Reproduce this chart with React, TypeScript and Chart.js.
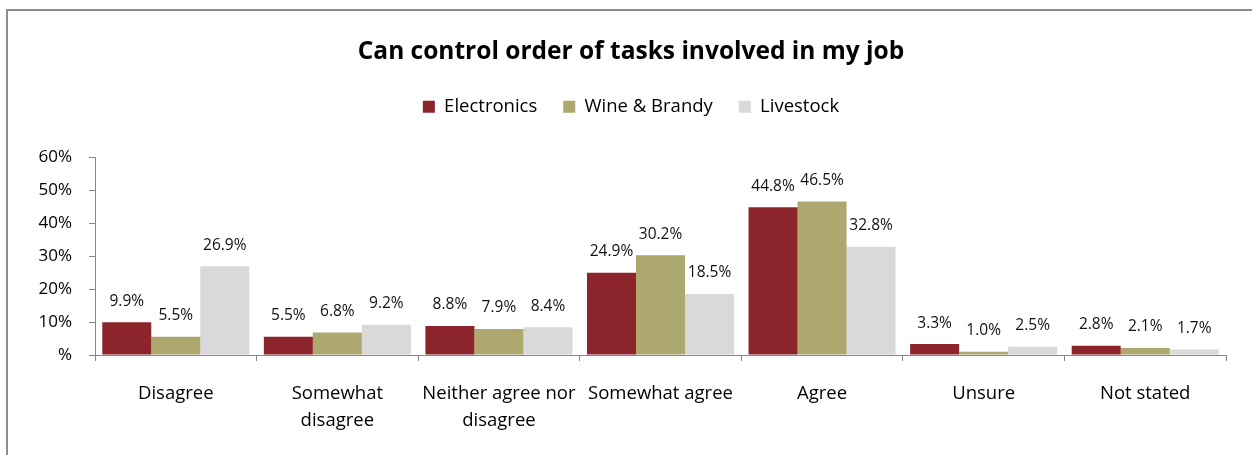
import React, { useEffect, useRef } from "react";
import { Chart, registerables } from "chart.js";

Chart.register(...registerables);

const categories: (string | string[])[] = [
  "Disagree",
  ["Somewhat", "disagree"],
  ["Neither agree nor", "disagree"],
  "Somewhat agree",
  "Agree",
  "Unsure",
  "Not stated",
];
const seriesNames = ["Electronics", "Wine & Brandy", "Livestock"];
const electronics = [9.9, 5.5, 8.8, 24.9, 44.8, 3.3, 2.8];
const wineBrandy = [5.5, 6.8, 7.9, 30.2, 46.5, 1.0, 2.1];
const livestock = [26.9, 9.2, 8.4, 18.5, 32.8, 2.5, 1.7];
const seriesColors = ["#8B252B", "#ADA96E", "#D9D9D9"];
const yTicks = [0, 10, 20, 30, 40, 50, 60];

const FONT = "'Open Sans', Lato, 'Liberation Sans', sans-serif";
const AXIS = "#868686";

const valueLabels = {
  id: "valueLabels",
  afterDatasetsDraw(chart: any) {
    const ctx = chart.ctx;
    ctx.save();
    ctx.font = `15.5px ${FONT}`;
    ctx.fillStyle = "#111";
    ctx.textAlign = "center";
    ctx.textBaseline = "middle";
    chart.data.datasets.forEach((ds: any, di: number) => {
      const meta = chart.getDatasetMeta(di);
      meta.data.forEach((el: any, i: number) => {
        const v = ds.data[i];
        ctx.fillText(`${v.toFixed(1)}%`, el.x, el.y - 21);
      });
    });
    ctx.restore();
  },
};

export default function App() {
  const ref = useRef<HTMLCanvasElement>(null);
  useEffect(() => {
    if (!ref.current) return;
    const chart = new Chart(ref.current, {
      type: "bar",
      data: {
        labels: categories,
        datasets: [electronics, wineBrandy, livestock].map((d, i) => ({
          label: seriesNames[i],
          data: d,
          backgroundColor: seriesColors[i],
          borderWidth: 0,
          categoryPercentage: 0.91,
          barPercentage: 1,
        })),
      },
      options: {
        animation: false,
        responsive: false,
        layout: { padding: { left: 36, right: 26, top: 0, bottom: 0 } },
        plugins: {
          title: {
            display: true,
            text: "Can control order of tasks involved in my job",
            color: "#000",
            font: { family: FONT, size: 24.5, weight: "bold", lineHeight: 1.2 },
            padding: { top: 37.3, bottom: 4.75 },
          },
          legend: {
            display: true,
            position: "top",
            labels: {
              boxWidth: 12,
              boxHeight: 12,
              padding: 26,
              color: "#000",
              font: { family: FONT, size: 18.5 },
            },
          },
          subtitle: {
            display: true,
            text: "",
            weight: 0,
            font: { size: 12, lineHeight: 1 },
            padding: { top: 0, bottom: 19.05 },
          },
          tooltip: { enabled: false },
        },
        scales: {
          x: {
            grid: {
              display: true,
              drawOnChartArea: false,
              offset: true,
              tickLength: 6,
              color: AXIS,
            },
            border: { color: AXIS },
            ticks: {
              color: "#000",
              padding: 19,
              font: { family: FONT, size: 18.5, lineHeight: 1.46 },
              maxRotation: 0,
              autoSkip: false,
            },
            afterFit(scale: any) {
              scale.height = 100;
            },
          },
          y: {
            min: 0,
            max: 60,
            afterBuildTicks(scale: any) {
              scale.ticks = yTicks.map((v) => ({ value: v }));
            },
            grid: {
              display: true,
              drawOnChartArea: false,
              tickLength: 6,
              color: AXIS,
            },
            border: { color: AXIS },
            ticks: {
              color: "#000",
              padding: 17,
              font: { family: FONT, size: 17 },
              callback: (v: any) => (v === 0 ? "%" : `${v}%`),
            },
            afterFit(scale: any) {
              scale.width = 59;
            },
          },
        },
      },
      plugins: [valueLabels],
    });
    return () => chart.destroy();
  }, []);

  return (
    <div
      style={{
        position: "fixed",
        left: 0,
        top: 0,
        width: 1252,
        height: 455,
        overflow: "hidden",
        background: "#fff",
      }}
    >
      <div
        style={{
          position: "absolute",
          left: 6,
          top: 9,
          width: 1400,
          height: 600,
          borderLeft: "2px solid #8c8c8c",
          borderTop: "2px solid #8c8c8c",
        }}
      />
      <canvas
        ref={ref}
        width={1252}
        height={455}
        style={{ position: "absolute", left: 0, top: 0, width: 1252, height: 455 }}
      />
    </div>
  );
}
